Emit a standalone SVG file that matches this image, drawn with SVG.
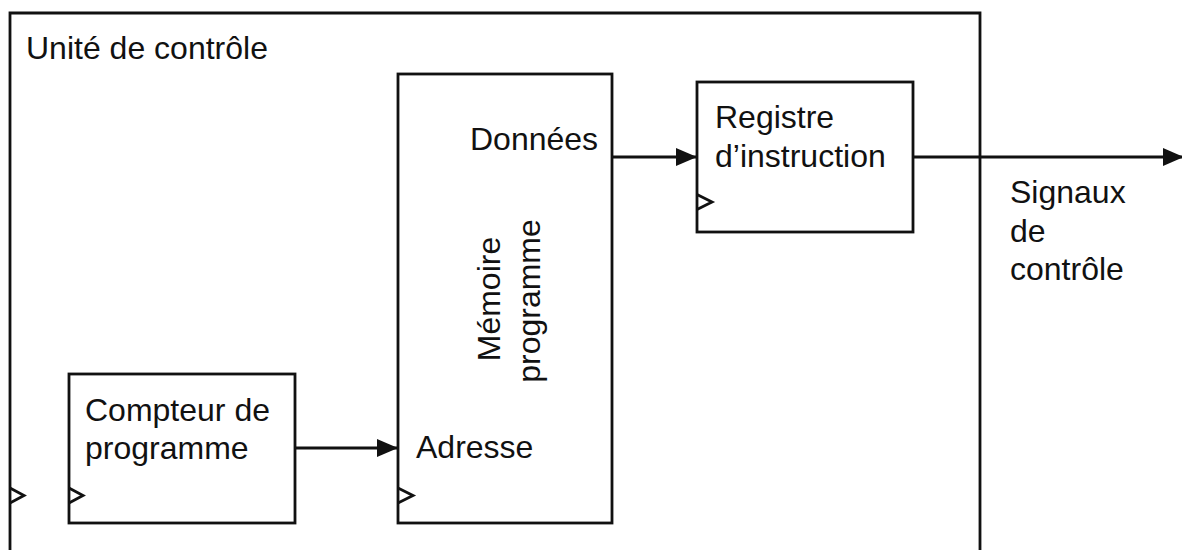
<svg xmlns="http://www.w3.org/2000/svg" width="1182" height="550" viewBox="0 0 1182 550">
  <defs>
    <style>
      .box { fill: #ffffff; stroke: #111111; stroke-width: 2.8; }
      .frame { fill: none; stroke: #111111; stroke-width: 2.8; }
      .clk { fill: none; stroke: #111111; stroke-width: 2.8; stroke-linejoin: miter; }
      .wire { fill: none; stroke: #111111; stroke-width: 2.8; }
      .lbl { font-family: "Liberation Sans", Arial, sans-serif; font-size: 32px; fill: #111111; }
    </style>
    <marker id="arrow" markerUnits="userSpaceOnUse" markerWidth="21" markerHeight="18" refX="21" refY="9" orient="auto">
      <path d="M0,0 L21,9 L0,18 z" fill="#111111"/>
    </marker>
  </defs>

  <rect width="1182" height="550" fill="#ffffff"/>

  <!-- control unit frame (open at the bottom) -->
  <g id="unite-controle">
    <path class="frame" d="M10,560 V13 H980 V560"/>
    <text class="lbl" x="26" y="59">Unité de contrôle</text>
    <path class="clk" d="M10,488 L24,495.5 L10,503"/>
  </g>

  <!-- program counter -->
  <g id="compteur-programme">
    <rect class="box" x="69" y="374" width="226" height="149"/>
    <text class="lbl" x="85" y="421">Compteur de</text>
    <text class="lbl" x="85" y="459">programme</text>
    <path class="clk" d="M69,488 L83,495.5 L69,503"/>
  </g>

  <!-- program memory -->
  <g id="memoire-programme">
    <rect class="box" x="398" y="74" width="214" height="449"/>
    <text class="lbl" x="470" y="150">Données</text>
    <text class="lbl" x="416" y="458">Adresse</text>
    <text class="lbl" text-anchor="middle" transform="translate(500,299) rotate(-90)">Mémoire</text>
    <text class="lbl" text-anchor="middle" transform="translate(540,301) rotate(-90)">programme</text>
    <path class="clk" d="M398,488 L413,495.5 L398,503"/>
  </g>

  <!-- instruction register -->
  <g id="registre-instruction">
    <rect class="box" x="697" y="82" width="216" height="150"/>
    <text class="lbl" x="715" y="128">Registre</text>
    <text class="lbl" x="715" y="167">d’instruction</text>
    <path class="clk" d="M697,194.5 L712,202 L697,209.5"/>
  </g>

  <!-- output label -->
  <g id="signaux-controle">
    <text class="lbl" x="1010" y="203">Signaux</text>
    <text class="lbl" x="1010" y="242">de</text>
    <text class="lbl" x="1010" y="280">contrôle</text>
  </g>

  <!-- connectors -->
  <g id="connectors">
    <line class="wire" x1="295" y1="448" x2="398" y2="448" marker-end="url(#arrow)"/>
    <line class="wire" x1="612" y1="157" x2="697" y2="157" marker-end="url(#arrow)"/>
    <line class="wire" x1="913" y1="157" x2="1184" y2="157" marker-end="url(#arrow)"/>
  </g>
</svg>
